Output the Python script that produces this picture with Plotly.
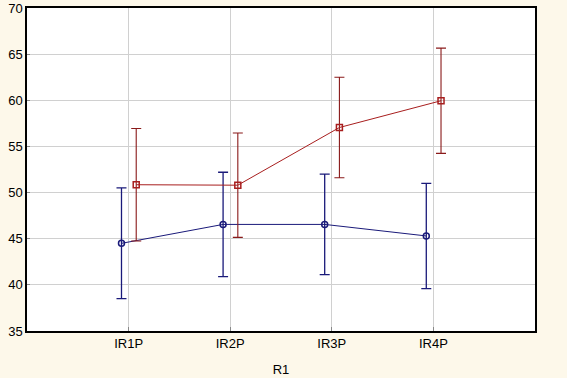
import plotly.graph_objects as go

categories = ["IR1P", "IR2P", "IR3P", "IR4P"]
blue_mean = [44.5, 46.55, 46.55, 45.3]
blue_err = [6.0, 5.65, 5.45, 5.7]
red_mean = [50.85, 50.8, 57.05, 59.95]
red_err = [6.1, 5.65, 5.45, 5.7]

idx = list(range(len(categories)))
blue_x = [i - 0.07 for i in idx]
red_x = [i + 0.075 for i in idx]

blue = "#1a1a7a"
red = "#a81e1e"

fig = go.Figure()
fig.add_trace(go.Scatter(
    x=blue_x, y=blue_mean, mode="lines+markers",
    line=dict(color=blue, width=1),
    marker=dict(symbol="circle-open", size=6, color=blue, line=dict(width=1.5)),
    error_y=dict(type="data", array=blue_err, color=blue, thickness=1.3, width=5),
    showlegend=False,
))
fig.add_trace(go.Scatter(
    x=red_x, y=red_mean, mode="lines+markers",
    line=dict(color=red, width=1),
    marker=dict(symbol="square-open", size=6, color=red, line=dict(width=1.5)),
    error_y=dict(type="data", array=red_err, color="#8a1a1a", thickness=1.1, width=5),
    showlegend=False,
))

fig.update_layout(
    width=567, height=378,
    margin=dict(l=27, r=32, t=8, b=47),
    paper_bgcolor="#fdf8ea",
    plot_bgcolor="white",
    font=dict(family="Liberation Sans, Arial, sans-serif", size=13, color="black"),
)
fig.update_xaxes(
    range=[-1, 4], tickvals=idx, ticktext=categories,
    showgrid=True, gridcolor="#d0d0d0", gridwidth=1,
    showline=True, linecolor="black", linewidth=1.5, mirror=True,
    ticks="inside", ticklen=4, tickcolor="#888",
    title=dict(text="R1", standoff=15, font=dict(size=13)),
    zeroline=False, automargin=False,
)
fig.update_yaxes(
    range=[35, 70], dtick=5,
    showgrid=True, gridcolor="#d0d0d0", gridwidth=1,
    showline=True, linecolor="black", linewidth=1.5, mirror=True,
    ticks="inside", ticklen=3, tickcolor="#888",
    zeroline=False, automargin=False,
)

fig.write_html(
    "out.html",
    config={"displayModeBar": False},
    post_script="document.body.style.margin='0';document.body.style.overflow='hidden';",
)
